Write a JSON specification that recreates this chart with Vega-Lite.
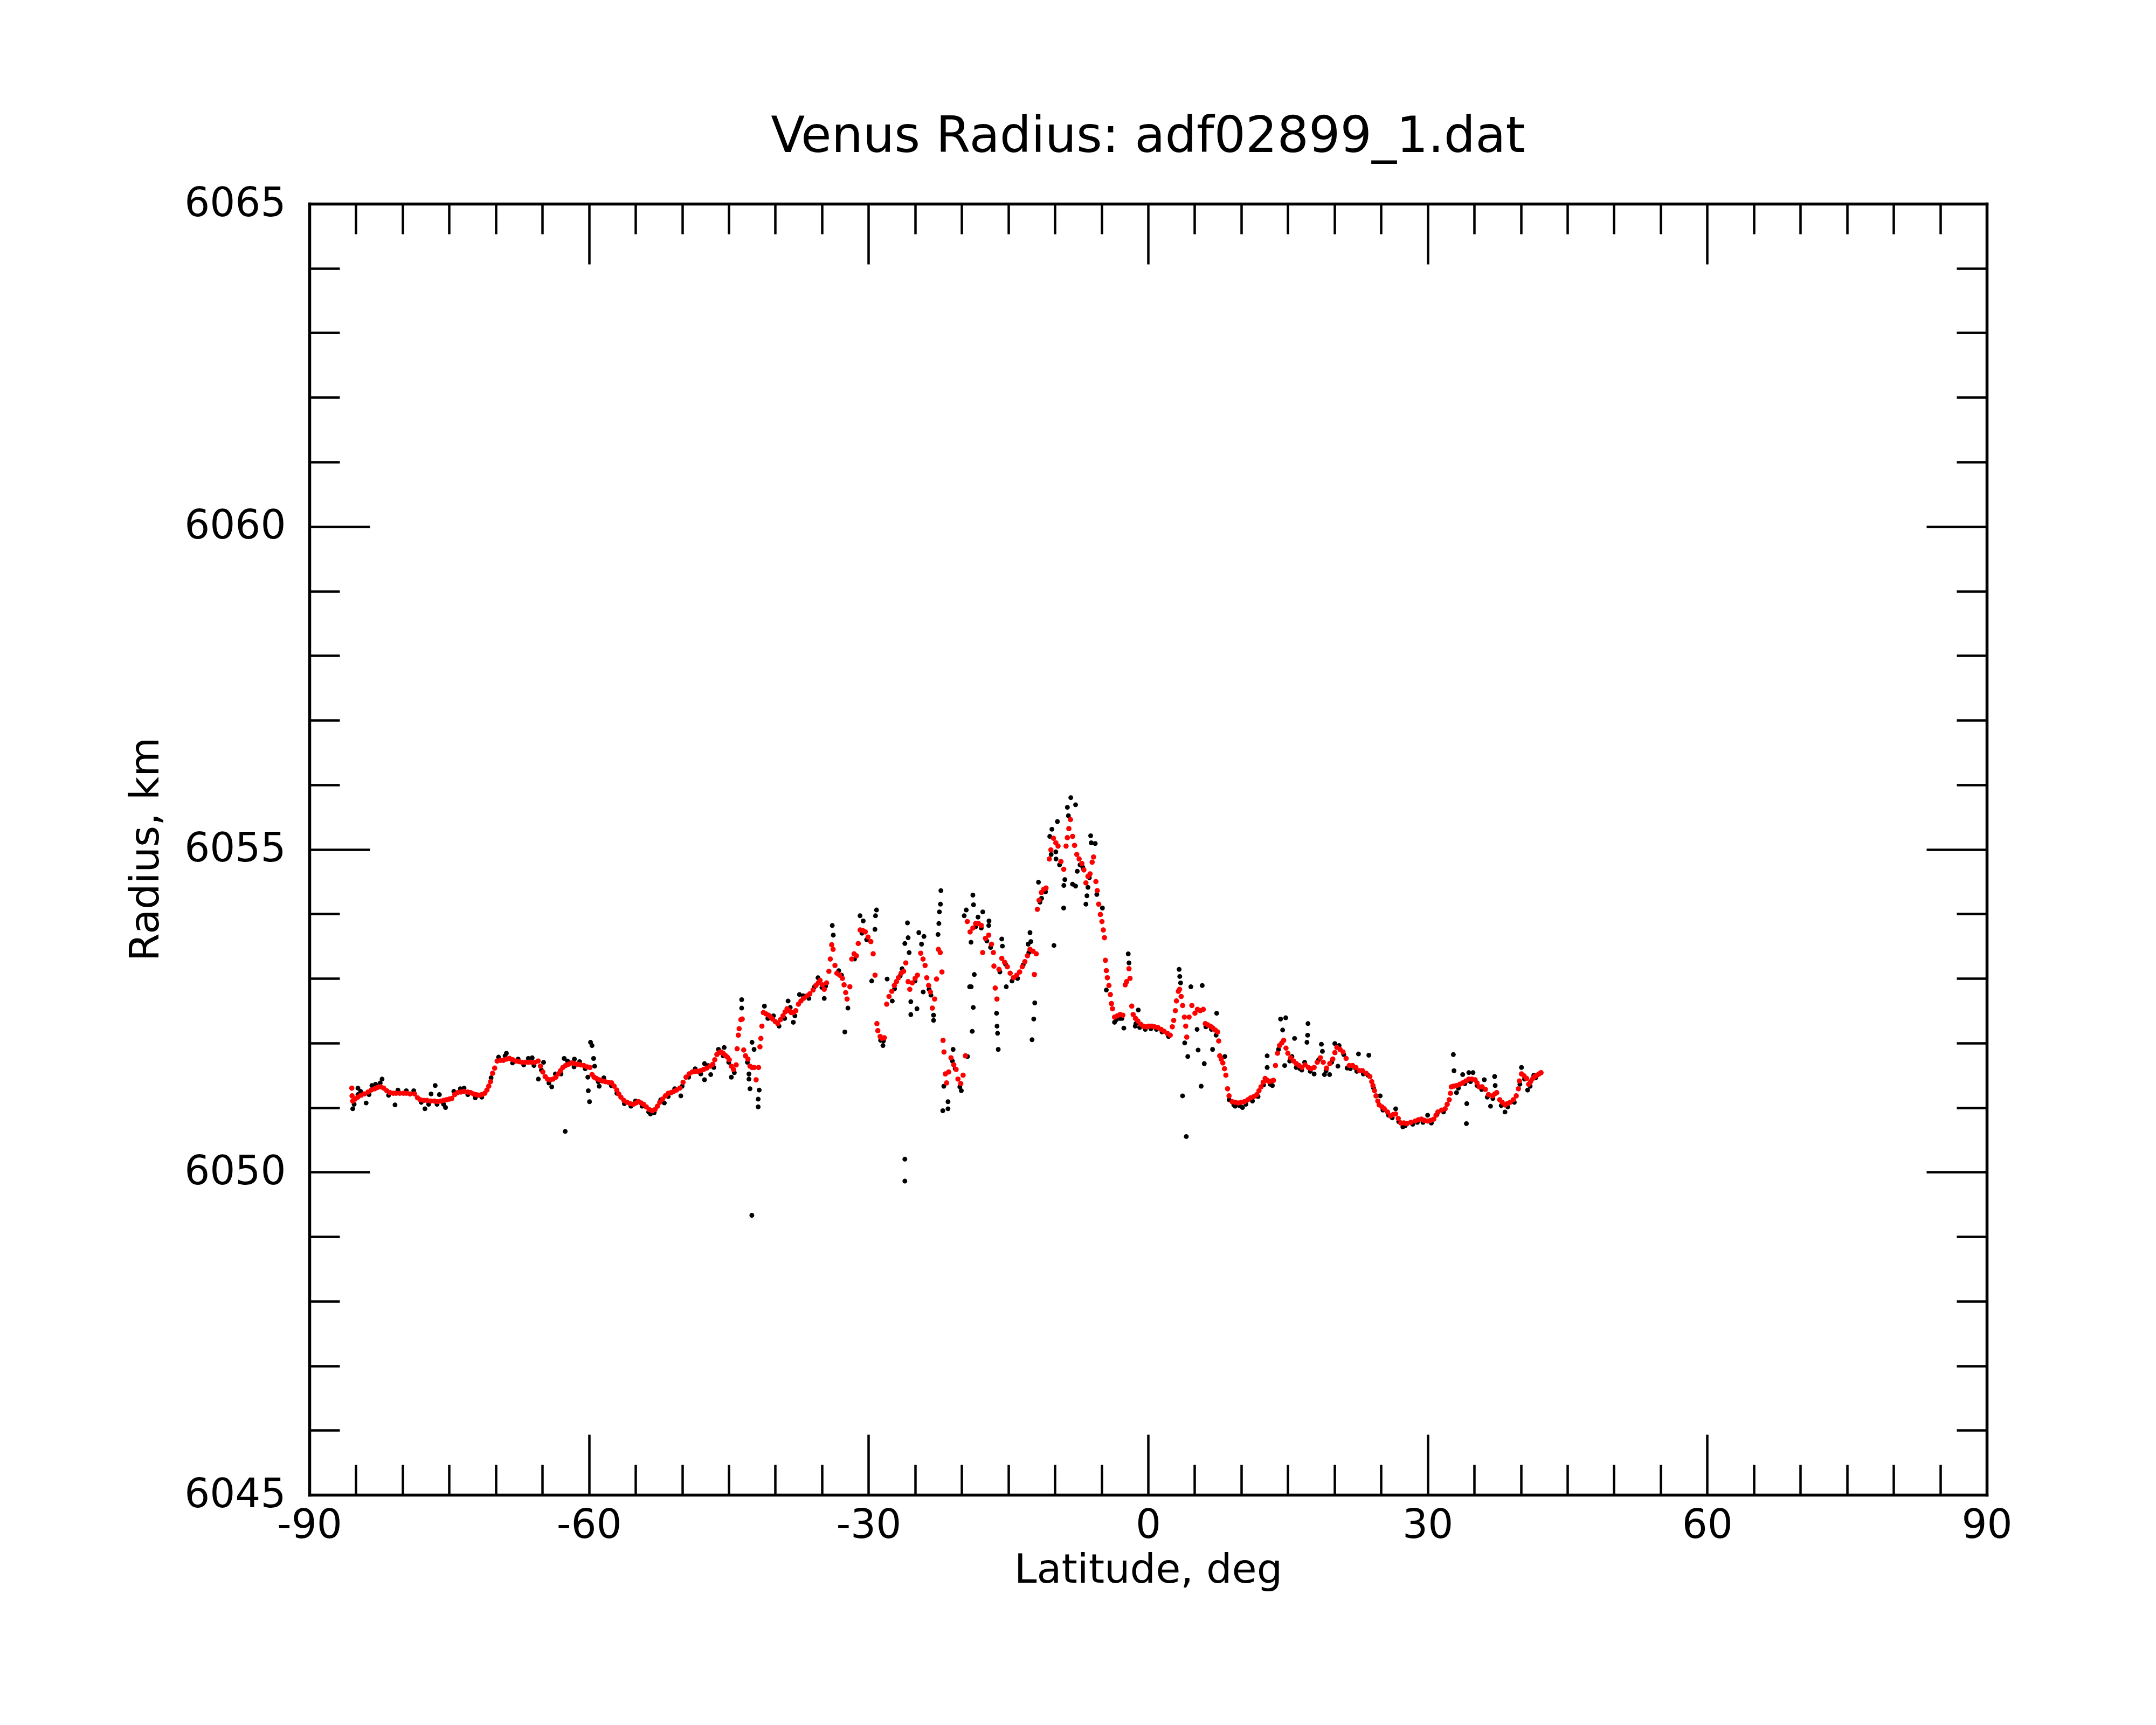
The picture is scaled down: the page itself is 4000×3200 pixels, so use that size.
{
  "$schema": "https://vega.github.io/schema/vega-lite/v6.json",
  "width": 3112,
  "height": 2395,
  "autosize": {"type": "none"},
  "padding": {"left": 574, "top": 378, "right": 314, "bottom": 427},
  "background": "white",
  "title": {
    "text": "Venus Radius: adf02899_1.dat",
    "font": "DejaVu Sans",
    "fontSize": 92,
    "fontWeight": "normal",
    "color": "black",
    "anchor": "middle",
    "frame": "group",
    "baseline": "alphabetic",
    "offset": -33
  },
  "config": {
    "view": {"stroke": null},
    "font": "DejaVu Sans",
    "axis": {"grid": false, "tickColor": "black", "domainColor": "black", "labelColor": "black", "titleColor": "black", "tickWidth": 4.5, "domainWidth": 5.5, "domainCap": "square", "tickCap": "butt", "labelLimit": 0}
  },
  "datasets": {
    "raw": [
      {"lat": -85.35, "r": 6050.98}, {"lat": -85.2, "r": 6051.05}, {"lat": -84.79, "r": 6051.30}, {"lat": -84.79, "r": 6051.20},
      {"lat": -84.5, "r": 6051.25}, {"lat": -83.91, "r": 6051.07}, {"lat": -83.6, "r": 6051.20}, {"lat": -83.29, "r": 6051.34},
      {"lat": -82.9, "r": 6051.36}, {"lat": -82.4, "r": 6051.38}, {"lat": -82.2, "r": 6051.44}, {"lat": -81.5, "r": 6051.19},
      {"lat": -80.81, "r": 6051.04}, {"lat": -80.5, "r": 6051.27}, {"lat": -79.6, "r": 6051.26}, {"lat": -78.8, "r": 6051.26},
      {"lat": -78.0, "r": 6051.08}, {"lat": -77.6, "r": 6050.98}, {"lat": -77.2, "r": 6051.05}, {"lat": -76.94, "r": 6051.21},
      {"lat": -76.5, "r": 6051.34}, {"lat": -76.3, "r": 6051.05}, {"lat": -76.05, "r": 6051.20}, {"lat": -75.6, "r": 6051.05},
      {"lat": -75.39, "r": 6051.00}, {"lat": -74.5, "r": 6051.25}, {"lat": -73.8, "r": 6051.29}, {"lat": -73.4, "r": 6051.30},
      {"lat": -73.0, "r": 6051.20}, {"lat": -72.2, "r": 6051.15}, {"lat": -71.5, "r": 6051.16}, {"lat": -70.5, "r": 6051.46},
      {"lat": -69.7, "r": 6051.78}, {"lat": -69.0, "r": 6051.80}, {"lat": -68.86, "r": 6051.84}, {"lat": -68.2, "r": 6051.69},
      {"lat": -67.6, "r": 6051.75}, {"lat": -67.0, "r": 6051.66}, {"lat": -66.5, "r": 6051.76}, {"lat": -66.09, "r": 6051.77},
      {"lat": -65.9, "r": 6051.65}, {"lat": -65.43, "r": 6051.44}, {"lat": -65.1, "r": 6051.58}, {"lat": -64.87, "r": 6051.70},
      {"lat": -64.3, "r": 6051.38}, {"lat": -63.99, "r": 6051.32}, {"lat": -63.6, "r": 6051.52}, {"lat": -63.0, "r": 6051.52},
      {"lat": -62.66, "r": 6051.76}, {"lat": -62.55, "r": 6050.63}, {"lat": -62.3, "r": 6051.72}, {"lat": -61.6, "r": 6051.63},
      {"lat": -61.56, "r": 6051.75}, {"lat": -61.0, "r": 6051.71}, {"lat": -60.4, "r": 6051.60}, {"lat": -60.12, "r": 6051.47},
      {"lat": -60.07, "r": 6051.26}, {"lat": -59.94, "r": 6051.09}, {"lat": -59.83, "r": 6052.01}, {"lat": -59.67, "r": 6051.96},
      {"lat": -59.5, "r": 6051.76}, {"lat": -59.39, "r": 6051.64}, {"lat": -59.0, "r": 6051.40}, {"lat": -58.9, "r": 6051.33},
      {"lat": -58.4, "r": 6051.46}, {"lat": -57.6, "r": 6051.34}, {"lat": -57.0, "r": 6051.22}, {"lat": -56.2, "r": 6051.06},
      {"lat": -55.5, "r": 6051.02}, {"lat": -55.0, "r": 6051.10}, {"lat": -54.3, "r": 6051.02}, {"lat": -53.59, "r": 6050.93},
      {"lat": -53.4, "r": 6050.90}, {"lat": -53.0, "r": 6050.92}, {"lat": -52.3, "r": 6051.12}, {"lat": -51.91, "r": 6051.07},
      {"lat": -51.5, "r": 6051.17}, {"lat": -50.8, "r": 6051.29}, {"lat": -50.14, "r": 6051.18}, {"lat": -50.0, "r": 6051.33},
      {"lat": -49.3, "r": 6051.47}, {"lat": -48.6, "r": 6051.60}, {"lat": -48.0, "r": 6051.52}, {"lat": -47.6, "r": 6051.68},
      {"lat": -47.6, "r": 6051.43}, {"lat": -47.2, "r": 6051.65}, {"lat": -46.93, "r": 6051.51}, {"lat": -46.6, "r": 6051.62},
      {"lat": -46.1, "r": 6051.90}, {"lat": -45.6, "r": 6051.80}, {"lat": -45.49, "r": 6051.93}, {"lat": -45.0, "r": 6051.70},
      {"lat": -44.72, "r": 6051.47}, {"lat": -44.4, "r": 6051.54}, {"lat": -43.61, "r": 6052.67}, {"lat": -43.61, "r": 6052.54},
      {"lat": -43.0, "r": 6051.70}, {"lat": -42.83, "r": 6051.52}, {"lat": -42.83, "r": 6051.44}, {"lat": -42.72, "r": 6051.29},
      {"lat": -42.5, "r": 6052.01}, {"lat": -42.28, "r": 6051.90}, {"lat": -42.52, "r": 6049.33}, {"lat": -41.84, "r": 6051.13},
      {"lat": -41.84, "r": 6051.01}, {"lat": -41.73, "r": 6051.27}, {"lat": -41.17, "r": 6052.57}, {"lat": -40.8, "r": 6052.38},
      {"lat": -40.2, "r": 6052.42}, {"lat": -39.6, "r": 6052.26}, {"lat": -39.0, "r": 6052.38}, {"lat": -38.63, "r": 6052.65},
      {"lat": -38.4, "r": 6052.55}, {"lat": -38.07, "r": 6052.32}, {"lat": -37.9, "r": 6052.42}, {"lat": -37.41, "r": 6052.75},
      {"lat": -37.0, "r": 6052.73}, {"lat": -36.4, "r": 6052.69}, {"lat": -35.8, "r": 6052.87}, {"lat": -35.42, "r": 6053.01},
      {"lat": -35.0, "r": 6052.86}, {"lat": -34.75, "r": 6052.69}, {"lat": -34.6, "r": 6052.88}, {"lat": -33.89, "r": 6053.82},
      {"lat": -33.78, "r": 6053.67}, {"lat": -33.2, "r": 6053.12}, {"lat": -32.9, "r": 6053.05}, {"lat": -32.54, "r": 6052.17},
      {"lat": -32.21, "r": 6052.54}, {"lat": -31.5, "r": 6053.30}, {"lat": -30.91, "r": 6053.97}, {"lat": -30.7, "r": 6053.70},
      {"lat": -30.57, "r": 6053.89}, {"lat": -30.2, "r": 6053.60}, {"lat": -29.66, "r": 6052.96}, {"lat": -29.31, "r": 6053.76},
      {"lat": -29.25, "r": 6053.97}, {"lat": -29.14, "r": 6054.06}, {"lat": -28.7, "r": 6052.04}, {"lat": -28.45, "r": 6051.96},
      {"lat": -28.4, "r": 6052.03}, {"lat": -28.0, "r": 6052.99}, {"lat": -27.45, "r": 6052.65}, {"lat": -27.2, "r": 6052.84},
      {"lat": -26.6, "r": 6053.04}, {"lat": -26.4, "r": 6053.15}, {"lat": -26.1, "r": 6053.54}, {"lat": -26.1, "r": 6050.20},
      {"lat": -26.1, "r": 6049.86}, {"lat": -25.82, "r": 6053.86}, {"lat": -25.75, "r": 6053.63}, {"lat": -25.64, "r": 6053.40},
      {"lat": -25.46, "r": 6052.64}, {"lat": -25.46, "r": 6052.44}, {"lat": -25.0, "r": 6052.96}, {"lat": -24.8, "r": 6052.53},
      {"lat": -24.6, "r": 6053.71}, {"lat": -24.31, "r": 6053.53}, {"lat": -24.13, "r": 6052.79}, {"lat": -24.05, "r": 6053.65},
      {"lat": -23.5, "r": 6052.83}, {"lat": -23.3, "r": 6052.74}, {"lat": -23.02, "r": 6052.35}, {"lat": -23.02, "r": 6052.43},
      {"lat": -22.54, "r": 6053.68}, {"lat": -22.45, "r": 6053.85}, {"lat": -22.39, "r": 6054.03}, {"lat": -22.28, "r": 6054.15},
      {"lat": -22.23, "r": 6054.36}, {"lat": -22.03, "r": 6050.95}, {"lat": -21.92, "r": 6051.33}, {"lat": -21.47, "r": 6051.09},
      {"lat": -21.47, "r": 6050.98}, {"lat": -21.0, "r": 6051.72}, {"lat": -20.92, "r": 6051.90}, {"lat": -20.7, "r": 6051.60},
      {"lat": -20.2, "r": 6051.32}, {"lat": -20.04, "r": 6051.26}, {"lat": -19.73, "r": 6053.97}, {"lat": -19.51, "r": 6054.06},
      {"lat": -19.37, "r": 6051.79}, {"lat": -19.15, "r": 6052.87}, {"lat": -19.0, "r": 6053.56}, {"lat": -18.98, "r": 6052.87},
      {"lat": -18.87, "r": 6052.18}, {"lat": -18.8, "r": 6054.29}, {"lat": -18.76, "r": 6052.55}, {"lat": -18.73, "r": 6054.14},
      {"lat": -18.65, "r": 6053.06}, {"lat": -18.5, "r": 6053.80}, {"lat": -18.25, "r": 6053.95}, {"lat": -17.9, "r": 6053.78},
      {"lat": -17.74, "r": 6054.03}, {"lat": -17.3, "r": 6053.58}, {"lat": -17.1, "r": 6053.82}, {"lat": -17.07, "r": 6053.89},
      {"lat": -16.9, "r": 6053.48}, {"lat": -16.26, "r": 6052.46}, {"lat": -16.21, "r": 6052.26}, {"lat": -16.15, "r": 6052.15},
      {"lat": -16.08, "r": 6051.90}, {"lat": -15.9, "r": 6053.10}, {"lat": -15.7, "r": 6053.61}, {"lat": -15.63, "r": 6053.50},
      {"lat": -15.3, "r": 6053.22}, {"lat": -15.22, "r": 6052.87}, {"lat": -14.6, "r": 6052.96}, {"lat": -14.0, "r": 6053.00},
      {"lat": -13.4, "r": 6053.21}, {"lat": -12.87, "r": 6053.53}, {"lat": -12.8, "r": 6053.40}, {"lat": -12.67, "r": 6053.71},
      {"lat": -12.58, "r": 6053.57}, {"lat": -12.45, "r": 6052.05}, {"lat": -12.27, "r": 6052.37}, {"lat": -12.16, "r": 6052.62},
      {"lat": -11.76, "r": 6054.49}, {"lat": -11.6, "r": 6054.18}, {"lat": -11.43, "r": 6054.24}, {"lat": -11.0, "r": 6054.34},
      {"lat": -10.55, "r": 6055.20}, {"lat": -10.4, "r": 6054.92}, {"lat": -10.32, "r": 6055.31}, {"lat": -10.1, "r": 6053.51},
      {"lat": -9.9, "r": 6054.96}, {"lat": -9.88, "r": 6054.85}, {"lat": -9.73, "r": 6055.43}, {"lat": -9.5, "r": 6054.76},
      {"lat": -9.06, "r": 6054.09}, {"lat": -9.04, "r": 6054.44}, {"lat": -8.93, "r": 6054.53}, {"lat": -8.66, "r": 6055.65},
      {"lat": -8.55, "r": 6055.52}, {"lat": -8.29, "r": 6055.80}, {"lat": -8.11, "r": 6054.46}, {"lat": -7.78, "r": 6055.69},
      {"lat": -7.78, "r": 6054.43}, {"lat": -7.6, "r": 6054.66}, {"lat": -7.3, "r": 6054.76}, {"lat": -7.0, "r": 6054.72},
      {"lat": -6.67, "r": 6054.15}, {"lat": -6.56, "r": 6054.28}, {"lat": -6.45, "r": 6054.41}, {"lat": -6.3, "r": 6054.56},
      {"lat": -6.16, "r": 6055.21}, {"lat": -6.1, "r": 6055.10}, {"lat": -5.67, "r": 6055.09}, {"lat": -5.5, "r": 6054.30},
      {"lat": -4.9, "r": 6054.09}, {"lat": -4.48, "r": 6052.82}, {"lat": -3.6, "r": 6052.32}, {"lat": -3.4, "r": 6052.36},
      {"lat": -3.0, "r": 6052.38}, {"lat": -2.8, "r": 6052.38}, {"lat": -2.6, "r": 6052.23}, {"lat": -2.13, "r": 6053.38},
      {"lat": -2.05, "r": 6053.24}, {"lat": -1.38, "r": 6052.26}, {"lat": -1.3, "r": 6052.30}, {"lat": -1.05, "r": 6052.51},
      {"lat": -0.9, "r": 6052.24}, {"lat": -0.3, "r": 6052.21}, {"lat": 0.3, "r": 6052.22}, {"lat": 0.9, "r": 6052.21},
      {"lat": 1.5, "r": 6052.17}, {"lat": 2.2, "r": 6052.10}, {"lat": 3.33, "r": 6053.14}, {"lat": 3.4, "r": 6053.03},
      {"lat": 3.49, "r": 6052.93}, {"lat": 3.7, "r": 6051.18}, {"lat": 3.93, "r": 6052.00}, {"lat": 4.26, "r": 6051.79},
      {"lat": 4.1, "r": 6050.55}, {"lat": 4.59, "r": 6052.87}, {"lat": 5.26, "r": 6052.21}, {"lat": 5.37, "r": 6051.89},
      {"lat": 5.7, "r": 6051.33}, {"lat": 5.81, "r": 6052.89}, {"lat": 6.03, "r": 6051.68}, {"lat": 6.2, "r": 6052.25},
      {"lat": 6.8, "r": 6052.21}, {"lat": 6.92, "r": 6051.90}, {"lat": 7.3, "r": 6052.12}, {"lat": 7.36, "r": 6052.46},
      {"lat": 8.24, "r": 6051.79}, {"lat": 8.7, "r": 6051.12}, {"lat": 9.2, "r": 6051.04}, {"lat": 9.35, "r": 6051.02},
      {"lat": 9.8, "r": 6051.03}, {"lat": 10.13, "r": 6051.00}, {"lat": 10.5, "r": 6051.05}, {"lat": 11.2, "r": 6051.10},
      {"lat": 11.8, "r": 6051.17}, {"lat": 12.4, "r": 6051.35}, {"lat": 12.78, "r": 6051.80}, {"lat": 12.78, "r": 6051.62},
      {"lat": 13.1, "r": 6051.36}, {"lat": 13.34, "r": 6051.34}, {"lat": 14.0, "r": 6051.90}, {"lat": 14.22, "r": 6052.37},
      {"lat": 14.44, "r": 6052.20}, {"lat": 14.66, "r": 6051.65}, {"lat": 14.77, "r": 6052.39}, {"lat": 15.2, "r": 6051.72},
      {"lat": 15.44, "r": 6051.79}, {"lat": 15.72, "r": 6052.07}, {"lat": 15.9, "r": 6051.62}, {"lat": 16.3, "r": 6051.60},
      {"lat": 16.5, "r": 6051.58}, {"lat": 16.8, "r": 6051.70}, {"lat": 17.05, "r": 6052.01}, {"lat": 17.12, "r": 6052.12},
      {"lat": 17.16, "r": 6052.30}, {"lat": 17.4, "r": 6051.56}, {"lat": 17.82, "r": 6051.52}, {"lat": 18.3, "r": 6051.74},
      {"lat": 18.6, "r": 6051.98}, {"lat": 18.71, "r": 6051.87}, {"lat": 18.93, "r": 6051.51}, {"lat": 19.1, "r": 6051.57},
      {"lat": 19.48, "r": 6051.51}, {"lat": 19.7, "r": 6051.70}, {"lat": 20.04, "r": 6051.99}, {"lat": 20.37, "r": 6051.64},
      {"lat": 20.5, "r": 6051.96}, {"lat": 21.0, "r": 6051.82}, {"lat": 21.36, "r": 6051.61}, {"lat": 21.7, "r": 6051.60},
      {"lat": 22.25, "r": 6051.61}, {"lat": 22.4, "r": 6051.56}, {"lat": 22.58, "r": 6051.83}, {"lat": 23.1, "r": 6051.52},
      {"lat": 23.6, "r": 6051.50}, {"lat": 23.69, "r": 6051.81}, {"lat": 24.2, "r": 6051.30}, {"lat": 24.91, "r": 6051.18},
      {"lat": 25.2, "r": 6050.96}, {"lat": 25.8, "r": 6050.88}, {"lat": 26.2, "r": 6050.84}, {"lat": 26.57, "r": 6050.98},
      {"lat": 26.9, "r": 6050.78}, {"lat": 27.34, "r": 6050.70}, {"lat": 27.6, "r": 6050.72}, {"lat": 28.4, "r": 6050.74},
      {"lat": 28.9, "r": 6050.77}, {"lat": 29.5, "r": 6050.77}, {"lat": 30.0, "r": 6050.88}, {"lat": 30.4, "r": 6050.76},
      {"lat": 31.0, "r": 6050.89}, {"lat": 31.7, "r": 6050.93}, {"lat": 32.76, "r": 6051.82}, {"lat": 32.83, "r": 6051.57},
      {"lat": 33.1, "r": 6051.23}, {"lat": 33.3, "r": 6051.30}, {"lat": 33.76, "r": 6051.51}, {"lat": 34.0, "r": 6051.37},
      {"lat": 34.16, "r": 6050.75}, {"lat": 34.2, "r": 6051.06}, {"lat": 34.42, "r": 6051.54}, {"lat": 34.6, "r": 6051.40},
      {"lat": 34.87, "r": 6051.54}, {"lat": 35.3, "r": 6051.34}, {"lat": 35.8, "r": 6051.28}, {"lat": 36.08, "r": 6051.43},
      {"lat": 36.4, "r": 6051.16}, {"lat": 36.75, "r": 6051.02}, {"lat": 37.0, "r": 6051.14}, {"lat": 37.19, "r": 6051.48},
      {"lat": 37.25, "r": 6051.34}, {"lat": 37.9, "r": 6051.03}, {"lat": 38.3, "r": 6050.93}, {"lat": 38.6, "r": 6051.01},
      {"lat": 39.3, "r": 6051.08}, {"lat": 39.9, "r": 6051.36}, {"lat": 40.07, "r": 6051.62}, {"lat": 40.4, "r": 6051.44},
      {"lat": 40.73, "r": 6051.27}, {"lat": 41.0, "r": 6051.33}, {"lat": 41.39, "r": 6051.50}, {"lat": 41.6, "r": 6051.46}
    ],
    "smooth": [
      {"lat": -85.45, "r": 6051.30}, {"lat": -85.42, "r": 6051.18}, {"lat": -85.35, "r": 6051.10}, {"lat": -85.1, "r": 6051.13},
      {"lat": -84.8, "r": 6051.16}, {"lat": -84.46, "r": 6051.19}, {"lat": -84.1, "r": 6051.21}, {"lat": -83.7, "r": 6051.24},
      {"lat": -83.36, "r": 6051.27}, {"lat": -83.0, "r": 6051.29}, {"lat": -82.69, "r": 6051.31}, {"lat": -82.35, "r": 6051.32},
      {"lat": -82.03, "r": 6051.30}, {"lat": -81.7, "r": 6051.26}, {"lat": -81.36, "r": 6051.23}, {"lat": -81.0, "r": 6051.22},
      {"lat": -80.7, "r": 6051.22}, {"lat": -80.3, "r": 6051.22}, {"lat": -79.9, "r": 6051.22}, {"lat": -79.59, "r": 6051.22},
      {"lat": -79.2, "r": 6051.21}, {"lat": -78.71, "r": 6051.21}, {"lat": -78.4, "r": 6051.15}, {"lat": -78.1, "r": 6051.12},
      {"lat": -77.7, "r": 6051.11}, {"lat": -77.38, "r": 6051.11}, {"lat": -77.0, "r": 6051.10}, {"lat": -76.6, "r": 6051.10},
      {"lat": -76.27, "r": 6051.09}, {"lat": -75.9, "r": 6051.10}, {"lat": -75.6, "r": 6051.11}, {"lat": -75.3, "r": 6051.12},
      {"lat": -75.0, "r": 6051.13}, {"lat": -74.72, "r": 6051.14}, {"lat": -74.4, "r": 6051.20}, {"lat": -74.1, "r": 6051.23},
      {"lat": -73.75, "r": 6051.24}, {"lat": -73.4, "r": 6051.25}, {"lat": -73.0, "r": 6051.24}, {"lat": -72.7, "r": 6051.23},
      {"lat": -72.4, "r": 6051.21}, {"lat": -72.1, "r": 6051.20}, {"lat": -71.8, "r": 6051.19}, {"lat": -71.5, "r": 6051.20},
      {"lat": -71.18, "r": 6051.22}, {"lat": -70.95, "r": 6051.27}, {"lat": -70.75, "r": 6051.33}, {"lat": -70.56, "r": 6051.40},
      {"lat": -70.34, "r": 6051.53}, {"lat": -70.12, "r": 6051.61}, {"lat": -69.85, "r": 6051.72}, {"lat": -69.5, "r": 6051.73},
      {"lat": -69.19, "r": 6051.73}, {"lat": -68.85, "r": 6051.75}, {"lat": -68.53, "r": 6051.76}, {"lat": -68.2, "r": 6051.74},
      {"lat": -67.86, "r": 6051.72}, {"lat": -67.5, "r": 6051.71}, {"lat": -67.2, "r": 6051.70}, {"lat": -66.85, "r": 6051.70},
      {"lat": -66.5, "r": 6051.70}, {"lat": -66.15, "r": 6051.70}, {"lat": -65.8, "r": 6051.70}, {"lat": -65.45, "r": 6051.72},
      {"lat": -65.21, "r": 6051.64}, {"lat": -64.95, "r": 6051.55}, {"lat": -64.7, "r": 6051.48}, {"lat": -64.45, "r": 6051.44},
      {"lat": -64.15, "r": 6051.43}, {"lat": -63.85, "r": 6051.44}, {"lat": -63.55, "r": 6051.47}, {"lat": -63.3, "r": 6051.52},
      {"lat": -63.05, "r": 6051.57}, {"lat": -62.8, "r": 6051.62}, {"lat": -62.5, "r": 6051.65}, {"lat": -62.2, "r": 6051.67},
      {"lat": -61.89, "r": 6051.69}, {"lat": -61.55, "r": 6051.68}, {"lat": -61.22, "r": 6051.67}, {"lat": -60.9, "r": 6051.66},
      {"lat": -60.56, "r": 6051.65}, {"lat": -60.2, "r": 6051.63}, {"lat": -59.89, "r": 6051.62}, {"lat": -59.67, "r": 6051.51},
      {"lat": -59.45, "r": 6051.47}, {"lat": -59.2, "r": 6051.45}, {"lat": -58.9, "r": 6051.43}, {"lat": -58.57, "r": 6051.41},
      {"lat": -58.25, "r": 6051.40}, {"lat": -57.9, "r": 6051.39}, {"lat": -57.57, "r": 6051.38}, {"lat": -57.3, "r": 6051.33},
      {"lat": -57.02, "r": 6051.27}, {"lat": -56.8, "r": 6051.21}, {"lat": -56.57, "r": 6051.16}, {"lat": -56.25, "r": 6051.11},
      {"lat": -55.91, "r": 6051.08}, {"lat": -55.6, "r": 6051.06}, {"lat": -55.25, "r": 6051.05}, {"lat": -54.95, "r": 6051.07},
      {"lat": -54.69, "r": 6051.09}, {"lat": -54.4, "r": 6051.07}, {"lat": -54.14, "r": 6051.05}, {"lat": -53.85, "r": 6051.01},
      {"lat": -53.55, "r": 6050.97}, {"lat": -53.2, "r": 6050.95}, {"lat": -52.9, "r": 6050.97}, {"lat": -52.65, "r": 6051.02},
      {"lat": -52.4, "r": 6051.08}, {"lat": -52.1, "r": 6051.13}, {"lat": -51.8, "r": 6051.18}, {"lat": -51.5, "r": 6051.22},
      {"lat": -51.2, "r": 6051.23}, {"lat": -50.91, "r": 6051.25}, {"lat": -50.6, "r": 6051.27}, {"lat": -50.25, "r": 6051.30},
      {"lat": -49.9, "r": 6051.39}, {"lat": -49.58, "r": 6051.47}, {"lat": -49.25, "r": 6051.52}, {"lat": -48.92, "r": 6051.55},
      {"lat": -48.6, "r": 6051.56}, {"lat": -48.3, "r": 6051.56}, {"lat": -48.0, "r": 6051.57}, {"lat": -47.7, "r": 6051.59},
      {"lat": -47.37, "r": 6051.61}, {"lat": -47.0, "r": 6051.64}, {"lat": -46.71, "r": 6051.67}, {"lat": -46.5, "r": 6051.74},
      {"lat": -46.27, "r": 6051.82}, {"lat": -46.05, "r": 6051.85}, {"lat": -45.82, "r": 6051.86}, {"lat": -45.6, "r": 6051.84},
      {"lat": -45.38, "r": 6051.81}, {"lat": -45.15, "r": 6051.78}, {"lat": -44.94, "r": 6051.74}, {"lat": -44.72, "r": 6051.64},
      {"lat": -44.49, "r": 6051.59}, {"lat": -44.2, "r": 6051.66}, {"lat": -44.1, "r": 6051.91}, {"lat": -43.97, "r": 6052.12},
      {"lat": -43.88, "r": 6052.22}, {"lat": -43.7, "r": 6052.36}, {"lat": -43.55, "r": 6052.37}, {"lat": -43.39, "r": 6051.89},
      {"lat": -43.2, "r": 6051.80}, {"lat": -42.94, "r": 6051.75}, {"lat": -42.72, "r": 6051.64}, {"lat": -42.5, "r": 6051.62},
      {"lat": -42.28, "r": 6051.62}, {"lat": -42.06, "r": 6051.43}, {"lat": -41.8, "r": 6051.62}, {"lat": -41.65, "r": 6051.94},
      {"lat": -41.55, "r": 6052.07}, {"lat": -41.44, "r": 6052.26}, {"lat": -41.28, "r": 6052.47}, {"lat": -41.0, "r": 6052.45},
      {"lat": -40.73, "r": 6052.43}, {"lat": -40.5, "r": 6052.40}, {"lat": -40.29, "r": 6052.37}, {"lat": -40.0, "r": 6052.33},
      {"lat": -39.74, "r": 6052.30}, {"lat": -39.45, "r": 6052.36}, {"lat": -39.18, "r": 6052.42}, {"lat": -38.95, "r": 6052.48},
      {"lat": -38.74, "r": 6052.53}, {"lat": -38.5, "r": 6052.50}, {"lat": -38.3, "r": 6052.47}, {"lat": -38.05, "r": 6052.47},
      {"lat": -37.8, "r": 6052.50}, {"lat": -37.52, "r": 6052.60}, {"lat": -37.25, "r": 6052.65}, {"lat": -36.97, "r": 6052.69},
      {"lat": -36.6, "r": 6052.73}, {"lat": -36.3, "r": 6052.76}, {"lat": -35.95, "r": 6052.82}, {"lat": -35.64, "r": 6052.89},
      {"lat": -35.4, "r": 6052.93}, {"lat": -35.2, "r": 6052.97}, {"lat": -34.95, "r": 6052.90}, {"lat": -34.75, "r": 6052.83},
      {"lat": -34.5, "r": 6052.93}, {"lat": -34.25, "r": 6053.11}, {"lat": -34.1, "r": 6053.30}, {"lat": -33.95, "r": 6053.52},
      {"lat": -33.8, "r": 6053.45}, {"lat": -33.6, "r": 6053.20}, {"lat": -33.4, "r": 6053.08}, {"lat": -33.1, "r": 6053.05},
      {"lat": -32.8, "r": 6053.00}, {"lat": -32.62, "r": 6052.90}, {"lat": -32.45, "r": 6052.78}, {"lat": -32.3, "r": 6052.68},
      {"lat": -32.0, "r": 6052.87}, {"lat": -31.8, "r": 6053.30}, {"lat": -31.55, "r": 6053.38}, {"lat": -31.3, "r": 6053.35},
      {"lat": -31.1, "r": 6053.54}, {"lat": -30.9, "r": 6053.75}, {"lat": -30.6, "r": 6053.74}, {"lat": -30.35, "r": 6053.72},
      {"lat": -30.05, "r": 6053.64}, {"lat": -29.75, "r": 6053.57}, {"lat": -29.5, "r": 6053.38}, {"lat": -29.3, "r": 6053.05},
      {"lat": -29.1, "r": 6052.30}, {"lat": -29.0, "r": 6052.19}, {"lat": -28.75, "r": 6052.10}, {"lat": -28.55, "r": 6052.07},
      {"lat": -28.3, "r": 6052.08}, {"lat": -28.05, "r": 6052.60}, {"lat": -27.8, "r": 6052.72}, {"lat": -27.5, "r": 6052.80},
      {"lat": -27.23, "r": 6052.89}, {"lat": -27.0, "r": 6052.95}, {"lat": -26.79, "r": 6053.01}, {"lat": -26.5, "r": 6053.08},
      {"lat": -26.23, "r": 6053.11}, {"lat": -26.0, "r": 6053.24}, {"lat": -25.75, "r": 6052.95}, {"lat": -25.57, "r": 6052.83},
      {"lat": -25.3, "r": 6052.93}, {"lat": -25.0, "r": 6053.00}, {"lat": -24.75, "r": 6053.05}, {"lat": -24.4, "r": 6053.39},
      {"lat": -24.15, "r": 6053.30}, {"lat": -23.93, "r": 6053.20}, {"lat": -23.75, "r": 6053.01}, {"lat": -23.55, "r": 6052.89},
      {"lat": -23.36, "r": 6052.79}, {"lat": -23.15, "r": 6052.54}, {"lat": -22.91, "r": 6052.68}, {"lat": -22.7, "r": 6052.99},
      {"lat": -22.5, "r": 6053.45}, {"lat": -22.3, "r": 6053.40}, {"lat": -22.12, "r": 6053.10}, {"lat": -22.0, "r": 6052.04},
      {"lat": -21.9, "r": 6051.86}, {"lat": -21.75, "r": 6051.52}, {"lat": -21.62, "r": 6051.38}, {"lat": -21.4, "r": 6051.55},
      {"lat": -21.15, "r": 6051.77}, {"lat": -20.85, "r": 6051.66}, {"lat": -20.6, "r": 6051.59}, {"lat": -20.4, "r": 6051.44},
      {"lat": -20.1, "r": 6051.37}, {"lat": -19.85, "r": 6051.50}, {"lat": -19.6, "r": 6051.80}, {"lat": -19.4, "r": 6053.88},
      {"lat": -19.1, "r": 6053.72}, {"lat": -18.8, "r": 6053.78}, {"lat": -18.5, "r": 6053.85}, {"lat": -18.2, "r": 6053.85},
      {"lat": -17.9, "r": 6053.82}, {"lat": -17.75, "r": 6053.40}, {"lat": -17.45, "r": 6053.62}, {"lat": -17.1, "r": 6053.67},
      {"lat": -16.8, "r": 6053.53}, {"lat": -16.6, "r": 6053.40}, {"lat": -16.54, "r": 6053.19}, {"lat": -16.4, "r": 6052.85},
      {"lat": -16.22, "r": 6052.68}, {"lat": -16.0, "r": 6053.14}, {"lat": -15.7, "r": 6053.31}, {"lat": -15.4, "r": 6053.25},
      {"lat": -15.1, "r": 6053.18}, {"lat": -14.8, "r": 6053.08}, {"lat": -14.45, "r": 6053.01}, {"lat": -14.1, "r": 6053.05},
      {"lat": -13.78, "r": 6053.10}, {"lat": -13.5, "r": 6053.18}, {"lat": -13.22, "r": 6053.26}, {"lat": -12.95, "r": 6053.35},
      {"lat": -12.67, "r": 6053.45}, {"lat": -12.35, "r": 6053.42}, {"lat": -12.2, "r": 6053.06}, {"lat": -12.0, "r": 6053.38},
      {"lat": -11.88, "r": 6054.07}, {"lat": -11.7, "r": 6054.21}, {"lat": -11.45, "r": 6054.33}, {"lat": -11.2, "r": 6054.38},
      {"lat": -10.95, "r": 6054.40}, {"lat": -10.6, "r": 6054.85}, {"lat": -10.43, "r": 6054.99}, {"lat": -10.15, "r": 6055.17},
      {"lat": -9.9, "r": 6055.10}, {"lat": -9.66, "r": 6055.05}, {"lat": -9.35, "r": 6054.81}, {"lat": -9.05, "r": 6054.69},
      {"lat": -8.8, "r": 6055.05}, {"lat": -8.66, "r": 6055.18}, {"lat": -8.5, "r": 6055.32}, {"lat": -8.33, "r": 6055.46},
      {"lat": -8.1, "r": 6055.20}, {"lat": -7.89, "r": 6055.06}, {"lat": -7.65, "r": 6054.92}, {"lat": -7.4, "r": 6054.85},
      {"lat": -7.1, "r": 6054.78}, {"lat": -6.89, "r": 6054.68}, {"lat": -6.67, "r": 6054.48}, {"lat": -6.45, "r": 6054.58},
      {"lat": -6.23, "r": 6054.62}, {"lat": -6.0, "r": 6054.80}, {"lat": -5.85, "r": 6054.88}, {"lat": -5.6, "r": 6054.50},
      {"lat": -5.45, "r": 6054.36}, {"lat": -5.3, "r": 6054.15}, {"lat": -5.12, "r": 6053.99}, {"lat": -4.95, "r": 6053.88},
      {"lat": -4.8, "r": 6053.75}, {"lat": -4.68, "r": 6053.63}, {"lat": -4.58, "r": 6053.28}, {"lat": -4.48, "r": 6053.12},
      {"lat": -4.37, "r": 6053.01}, {"lat": -4.2, "r": 6052.89}, {"lat": -4.05, "r": 6052.75}, {"lat": -3.93, "r": 6052.61},
      {"lat": -3.82, "r": 6052.53}, {"lat": -3.6, "r": 6052.40}, {"lat": -3.3, "r": 6052.42}, {"lat": -3.0, "r": 6052.44},
      {"lat": -2.71, "r": 6052.43}, {"lat": -2.45, "r": 6052.90}, {"lat": -2.3, "r": 6052.95}, {"lat": -2.05, "r": 6053.15},
      {"lat": -1.94, "r": 6053.00}, {"lat": -1.75, "r": 6052.57}, {"lat": -1.6, "r": 6052.44}, {"lat": -1.35, "r": 6052.38},
      {"lat": -1.1, "r": 6052.34}, {"lat": -0.8, "r": 6052.29}, {"lat": -0.5, "r": 6052.26}, {"lat": -0.2, "r": 6052.25},
      {"lat": 0.1, "r": 6052.26}, {"lat": 0.4, "r": 6052.26}, {"lat": 0.7, "r": 6052.25}, {"lat": 1.05, "r": 6052.24},
      {"lat": 1.4, "r": 6052.21}, {"lat": 1.72, "r": 6052.18}, {"lat": 2.05, "r": 6052.15}, {"lat": 2.38, "r": 6052.12},
      {"lat": 2.6, "r": 6052.25}, {"lat": 2.75, "r": 6052.35}, {"lat": 2.93, "r": 6052.50}, {"lat": 3.04, "r": 6052.65},
      {"lat": 3.25, "r": 6052.80}, {"lat": 3.38, "r": 6052.83}, {"lat": 3.55, "r": 6052.72}, {"lat": 3.71, "r": 6052.58},
      {"lat": 3.9, "r": 6052.40}, {"lat": 4.04, "r": 6052.26}, {"lat": 4.15, "r": 6052.09}, {"lat": 4.4, "r": 6052.40},
      {"lat": 4.7, "r": 6052.58}, {"lat": 5.03, "r": 6052.46}, {"lat": 5.3, "r": 6052.52}, {"lat": 5.6, "r": 6052.50},
      {"lat": 5.92, "r": 6052.52}, {"lat": 6.14, "r": 6052.30}, {"lat": 6.4, "r": 6052.28}, {"lat": 6.69, "r": 6052.26},
      {"lat": 6.95, "r": 6052.23}, {"lat": 7.2, "r": 6052.20}, {"lat": 7.47, "r": 6052.17}, {"lat": 7.58, "r": 6052.03},
      {"lat": 7.69, "r": 6051.80}, {"lat": 7.85, "r": 6051.75}, {"lat": 8.02, "r": 6051.69}, {"lat": 8.2, "r": 6051.60},
      {"lat": 8.35, "r": 6051.50}, {"lat": 8.53, "r": 6051.29}, {"lat": 8.69, "r": 6051.18}, {"lat": 9.02, "r": 6051.09},
      {"lat": 9.35, "r": 6051.08}, {"lat": 9.68, "r": 6051.07}, {"lat": 10.0, "r": 6051.08}, {"lat": 10.35, "r": 6051.09},
      {"lat": 10.7, "r": 6051.12}, {"lat": 11.01, "r": 6051.15}, {"lat": 11.35, "r": 6051.17}, {"lat": 11.68, "r": 6051.20},
      {"lat": 11.9, "r": 6051.26}, {"lat": 12.12, "r": 6051.32}, {"lat": 12.35, "r": 6051.39}, {"lat": 12.56, "r": 6051.45},
      {"lat": 12.8, "r": 6051.42}, {"lat": 13.0, "r": 6051.40}, {"lat": 13.25, "r": 6051.41}, {"lat": 13.45, "r": 6051.42},
      {"lat": 13.67, "r": 6051.65}, {"lat": 13.89, "r": 6051.84}, {"lat": 14.11, "r": 6051.96}, {"lat": 14.35, "r": 6052.00},
      {"lat": 14.55, "r": 6052.04}, {"lat": 14.8, "r": 6051.92}, {"lat": 15.0, "r": 6051.84}, {"lat": 15.3, "r": 6051.77},
      {"lat": 15.61, "r": 6051.72}, {"lat": 15.9, "r": 6051.68}, {"lat": 16.2, "r": 6051.65}, {"lat": 16.5, "r": 6051.62},
      {"lat": 16.85, "r": 6051.66}, {"lat": 17.2, "r": 6051.62}, {"lat": 17.5, "r": 6051.60}, {"lat": 17.82, "r": 6051.62},
      {"lat": 18.15, "r": 6051.70}, {"lat": 18.49, "r": 6051.77}, {"lat": 18.8, "r": 6051.70}, {"lat": 19.15, "r": 6051.61},
      {"lat": 19.5, "r": 6051.68}, {"lat": 19.82, "r": 6051.75}, {"lat": 20.05, "r": 6051.85}, {"lat": 20.26, "r": 6051.93},
      {"lat": 20.6, "r": 6051.90}, {"lat": 20.92, "r": 6051.86}, {"lat": 21.25, "r": 6051.76}, {"lat": 21.59, "r": 6051.65},
      {"lat": 21.95, "r": 6051.65}, {"lat": 22.3, "r": 6051.62}, {"lat": 22.69, "r": 6051.57}, {"lat": 23.0, "r": 6051.57},
      {"lat": 23.4, "r": 6051.53}, {"lat": 23.8, "r": 6051.48}, {"lat": 24.0, "r": 6051.40}, {"lat": 24.13, "r": 6051.34},
      {"lat": 24.3, "r": 6051.26}, {"lat": 24.46, "r": 6051.18}, {"lat": 24.65, "r": 6051.10}, {"lat": 24.8, "r": 6051.04},
      {"lat": 25.1, "r": 6051.01}, {"lat": 25.35, "r": 6050.98}, {"lat": 25.7, "r": 6050.93}, {"lat": 26.01, "r": 6050.87},
      {"lat": 26.3, "r": 6050.89}, {"lat": 26.57, "r": 6050.90}, {"lat": 26.85, "r": 6050.83}, {"lat": 27.12, "r": 6050.76},
      {"lat": 27.45, "r": 6050.76}, {"lat": 27.78, "r": 6050.75}, {"lat": 28.2, "r": 6050.77}, {"lat": 28.67, "r": 6050.79},
      {"lat": 29.0, "r": 6050.81}, {"lat": 29.33, "r": 6050.82}, {"lat": 29.65, "r": 6050.80}, {"lat": 30.0, "r": 6050.79},
      {"lat": 30.33, "r": 6050.80}, {"lat": 30.66, "r": 6050.82}, {"lat": 30.9, "r": 6050.88}, {"lat": 31.1, "r": 6050.93},
      {"lat": 31.5, "r": 6050.96}, {"lat": 31.88, "r": 6050.98}, {"lat": 32.1, "r": 6051.05}, {"lat": 32.32, "r": 6051.12},
      {"lat": 32.45, "r": 6051.22}, {"lat": 32.54, "r": 6051.32}, {"lat": 32.8, "r": 6051.33}, {"lat": 33.1, "r": 6051.34},
      {"lat": 33.45, "r": 6051.36}, {"lat": 33.76, "r": 6051.38}, {"lat": 34.1, "r": 6051.41}, {"lat": 34.42, "r": 6051.44},
      {"lat": 34.75, "r": 6051.44}, {"lat": 35.09, "r": 6051.43}, {"lat": 35.3, "r": 6051.38}, {"lat": 35.53, "r": 6051.32},
      {"lat": 35.85, "r": 6051.32}, {"lat": 36.2, "r": 6051.28}, {"lat": 36.53, "r": 6051.20}, {"lat": 36.97, "r": 6051.18},
      {"lat": 37.2, "r": 6051.21}, {"lat": 37.41, "r": 6051.23}, {"lat": 37.74, "r": 6051.12}, {"lat": 38.0, "r": 6051.08},
      {"lat": 38.3, "r": 6051.04}, {"lat": 38.55, "r": 6051.06}, {"lat": 38.85, "r": 6051.08}, {"lat": 39.2, "r": 6051.12},
      {"lat": 39.51, "r": 6051.18}, {"lat": 39.74, "r": 6051.29}, {"lat": 39.85, "r": 6051.41}, {"lat": 40.07, "r": 6051.52},
      {"lat": 40.35, "r": 6051.49}, {"lat": 40.62, "r": 6051.45}, {"lat": 40.84, "r": 6051.36}, {"lat": 41.05, "r": 6051.40},
      {"lat": 41.29, "r": 6051.45}, {"lat": 41.5, "r": 6051.48}, {"lat": 41.73, "r": 6051.50}, {"lat": 41.95, "r": 6051.52},
      {"lat": 42.17, "r": 6051.54}
    ]
  },
  "layer": [
    {
      "data": {"name": "raw"},
      "mark": {"type": "circle", "size": 80, "color": "black", "opacity": 1},
      "encoding": {
        "x": {
          "field": "lat", "type": "quantitative",
          "scale": {"domain": [-90, 90], "nice": false, "zero": false},
          "axis": {
            "orient": "bottom", "values": [-90, -60, -30, 0, 30, 60, 90],
            "ticks": false, "domain": true,
            "labelExpr": "'' + datum.value", "labelFont": "DejaVu Sans", "labelFontSize": 74,
            "labelPadding": 21, "labelFlush": false, "labelOverlap": false, "labelBaseline": "top",
            "title": "Latitude, deg", "titleFont": "DejaVu Sans", "titleFontSize": 75, "titleFontWeight": "normal",
            "titleBaseline": "alphabetic", "titleY": 162
          }
        },
        "y": {
          "field": "r", "type": "quantitative",
          "scale": {"domain": [6045, 6065], "nice": false, "zero": false},
          "axis": {
            "orient": "left", "values": [6045, 6050, 6055, 6060, 6065],
            "ticks": false, "domain": true,
            "labelExpr": "'' + datum.value", "labelFont": "DejaVu Sans", "labelFontSize": 74,
            "labelPadding": 44, "labelFlush": false, "labelOverlap": false, "labelBaseline": "middle",
            "title": "Radius, km", "titleFont": "DejaVu Sans", "titleFontSize": 75, "titleFontWeight": "normal",
            "titleBaseline": "alphabetic", "titleAngle": 270, "titleX": -281, "titleY": 1197, "titleAlign": "center"
          }
        }
      }
    },
    {
      "data": {"name": "smooth"},
      "mark": {"type": "circle", "size": 95, "color": "#ff0000", "opacity": 1},
      "encoding": {
        "x": {
          "field": "lat", "type": "quantitative",
          "axis": {"orient": "bottom", "values": [-90, -60, -30, 0, 30, 60, 90], "tickSize": -112, "labels": false, "domain": false, "title": null}
        },
        "y": {
          "field": "r", "type": "quantitative",
          "axis": {"orient": "left", "values": [6045, 6050, 6055, 6060, 6065], "tickSize": -112, "labels": false, "domain": false, "title": null}
        }
      }
    },
    {
      "data": {"name": "raw"},
      "transform": [{"aggregate": [{"op": "min", "field": "lat", "as": "lat"}, {"op": "min", "field": "r", "as": "r"}]}],
      "mark": {"type": "point", "opacity": 0},
      "encoding": {
        "x": {
          "field": "lat", "type": "quantitative",
          "axis": {"orient": "bottom", "values": [-85, -80, -75, -70, -65, -55, -50, -45, -40, -35, -25, -20, -15, -10, -5, 5, 10, 15, 20, 25, 35, 40, 45, 50, 55, 65, 70, 75, 80, 85], "tickSize": -56, "labels": false, "domain": false, "title": null}
        },
        "y": {
          "field": "r", "type": "quantitative",
          "axis": {"orient": "left", "values": [6046, 6047, 6048, 6049, 6051, 6052, 6053, 6054, 6056, 6057, 6058, 6059, 6061, 6062, 6063, 6064], "tickSize": -56, "labels": false, "domain": false, "title": null}
        }
      }
    },
    {
      "data": {"name": "raw"},
      "transform": [{"aggregate": [{"op": "min", "field": "lat", "as": "lat"}, {"op": "min", "field": "r", "as": "r"}]}],
      "mark": {"type": "point", "opacity": 0},
      "encoding": {
        "x": {
          "field": "lat", "type": "quantitative",
          "axis": {"orient": "top", "values": [-90, -60, -30, 0, 30, 60, 90], "tickSize": -112, "labels": false, "domain": true, "title": null}
        },
        "y": {
          "field": "r", "type": "quantitative",
          "axis": {"orient": "right", "values": [6045, 6050, 6055, 6060, 6065], "tickSize": -112, "labels": false, "domain": true, "title": null}
        }
      }
    },
    {
      "data": {"name": "raw"},
      "transform": [{"aggregate": [{"op": "min", "field": "lat", "as": "lat"}, {"op": "min", "field": "r", "as": "r"}]}],
      "mark": {"type": "point", "opacity": 0},
      "encoding": {
        "x": {
          "field": "lat", "type": "quantitative",
          "axis": {"orient": "top", "values": [-85, -80, -75, -70, -65, -55, -50, -45, -40, -35, -25, -20, -15, -10, -5, 5, 10, 15, 20, 25, 35, 40, 45, 50, 55, 65, 70, 75, 80, 85], "tickSize": -56, "labels": false, "domain": false, "title": null}
        },
        "y": {
          "field": "r", "type": "quantitative",
          "axis": {"orient": "right", "values": [6046, 6047, 6048, 6049, 6051, 6052, 6053, 6054, 6056, 6057, 6058, 6059, 6061, 6062, 6063, 6064], "tickSize": -56, "labels": false, "domain": false, "title": null}
        }
      }
    }
  ],
  "resolve": {"axis": {"x": "independent", "y": "independent"}}
}
